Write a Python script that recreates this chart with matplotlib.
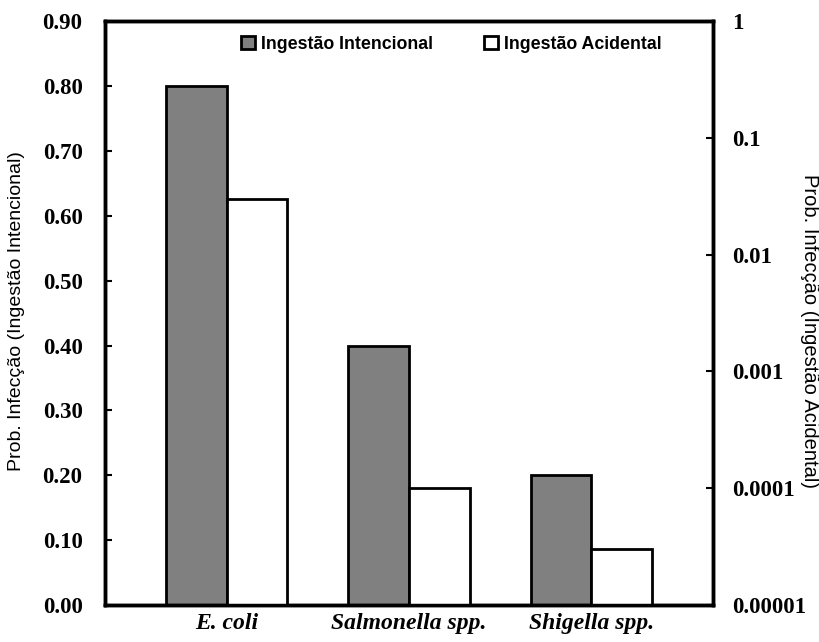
import matplotlib
matplotlib.use("Agg")
import matplotlib.pyplot as plt
import matplotlib.ticker as mticker
from matplotlib.patches import Patch
import numpy as np

# data
species = ["E. coli", "Salmonella spp.", "Shigella spp."]
intencional = [0.80, 0.40, 0.20]          # left axis (linear)
acidental = [0.030, 0.0001, 0.00003]      # right axis (log)

left_ticks = [0.0, 0.1, 0.2, 0.3, 0.4, 0.5, 0.6, 0.7, 0.8, 0.9]
right_ticks = [1e-5, 1e-4, 1e-3, 1e-2, 1e-1, 1]
right_labels = ["0.00001", "0.0001", "0.001", "0.01", "0.1", "1"]

grey = "#808080"
serif = "Liberation Serif"
sans = "Liberation Sans"

fig = plt.figure(figsize=(8.19, 6.42), dpi=100)
ax = fig.add_axes([0.128, 0.0576, 0.7426, 0.9094])
ax2 = ax.twinx()

x = np.arange(len(species))
w = 1 / 3

ax.bar(x - w / 2, intencional, w, color=grey, edgecolor="black", linewidth=2)
ax2.set_yscale("log")
ymin2 = right_ticks[0]
ax2.bar(x + w / 2, np.array(acidental) - ymin2, w, bottom=ymin2,
        color="white", edgecolor="black", linewidth=2)

ax.set_xlim(-0.667, 2.667)
ax.set_ylim(0, 0.9)
ax2.set_ylim(right_ticks[0], right_ticks[-1])

ax.set_yticks(left_ticks)
ax.set_yticklabels([f"{t:.2f}" for t in left_ticks])
ax2.yaxis.set_major_locator(mticker.FixedLocator(right_ticks))
ax2.yaxis.set_minor_locator(mticker.NullLocator())
ax2.set_yticklabels(right_labels)

ax.set_xticks(x)
ax.set_xticklabels(species, fontfamily=serif, fontweight="bold",
                   fontstyle="italic", fontsize=17)
ax.tick_params(axis="x", length=0, pad=6)
ax.tick_params(axis="y", direction="in", length=5, width=1.5, pad=16)
ax2.tick_params(axis="y", direction="in", length=5, width=1.5, pad=14)
for lab in ax.get_yticklabels() + ax2.get_yticklabels():
    lab.set_fontfamily(serif)
    lab.set_fontweight("bold")
    lab.set_fontsize(16.5)

for a in (ax, ax2):
    for s in a.spines.values():
        s.set_linewidth(2.5)

ax.set_ylabel("Prob. Infecção (Ingestão Intencional)", fontfamily=sans,
              fontsize=14, va="center", ha="center")
ax.yaxis.set_label_coords(-0.146, 0.503)
ax2.set_ylabel("Prob. Infecção (Ingestão Acidental)", fontfamily=sans,
               fontsize=14.5, rotation=270, va="center", ha="center")
ax2.yaxis.set_label_coords(1.158, 0.469)

handles = [Patch(facecolor=grey, edgecolor="black", linewidth=2),
           Patch(facecolor="white", edgecolor="black", linewidth=2)]
ax2.legend(handles, ["Ingestão Intencional", "Ingestão Acidental"],
           loc="center", bbox_to_anchor=(0.570, 0.960), ncol=2, frameon=False,
           handlelength=0.75, handleheight=0.75, handletextpad=0.35,
           columnspacing=2.9, prop={"family": sans, "weight": "bold", "size": 12.8})

fig.savefig("out.png", dpi=100)
